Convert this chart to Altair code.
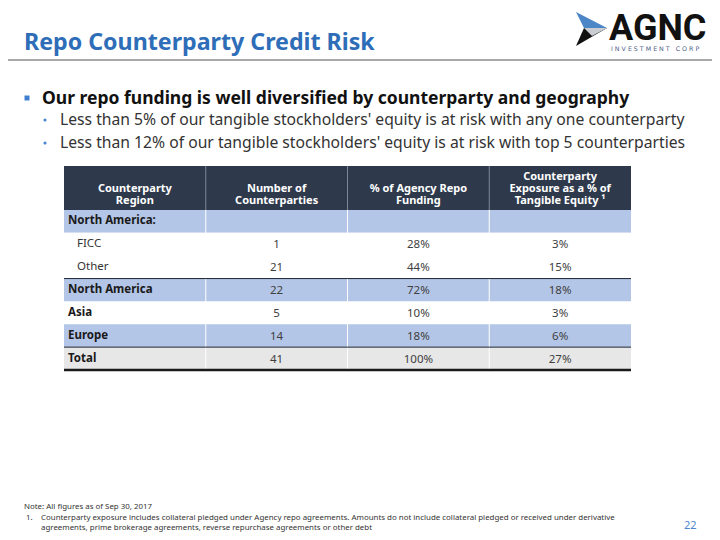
import altair as alt
import pandas as pd

# ---------------- data ----------------
regions = ["North America:", "FICC", "Other", "North America", "Asia", "Europe", "Total"]
counterparties = ["", "1", "21", "22", "5", "14", "41"]
repo_funding = ["", "28%", "44%", "72%", "10%", "18%", "100%"]
exposure = ["", "3%", "15%", "18%", "3%", "6%", "27%"]
row_kind = ["blue", "plain", "plain", "blue", "plain", "blue", "total"]
bold_row = [True, False, False, True, True, True, True]
headers = [
    ["Counterparty", "Region"],
    ["Number of", "Counterparties"],
    ["% of Agency Repo", "Funding"],
    ["Counterparty", "Exposure as a % of", "Tangible Equity \u00b9"],
]

title = "Repo Counterparty Credit Risk"
bullet_main = "Our repo funding is well diversified by counterparty and geography"
bullet_subs = [
    "Less than 5% of our tangible stockholders' equity is at risk with any one counterparty",
    "Less than 12% of our tangible stockholders' equity is at risk with top 5 counterparties",
]
note = "Note: All figures as of Sep 30, 2017"
footnote_lines = [
    "Counterparty exposure includes collateral pledged under Agency repo agreements. Amounts do not include collateral pledged or received under derivative",
    "agreements, prime brokerage agreements, reverse repurchase agreements or other debt",
]
page_no = "22"

FONT = "Noto Sans"
W, H = 704, 524
OFF = 8  # page margin

# ---------------- tables ----------------
n = len(regions)
rows = pd.DataFrame({
    "k": list(range(n)),
    "region": regions,
    "kind": row_kind,
    "bold": bold_row,
})
rows["r0"] = rows["k"]
rows["r1"] = rows["k"] + 1
rows["rc"] = rows["k"] + 0.5
rows["c0"] = 0
rows["c1"] = 4

vals = []
for k in range(n):
    for c, col in enumerate([counterparties, repo_funding, exposure], start=1):
        vals.append({"k": k, "xc": c + 0.5, "rc": k + 0.5, "v": col[k]})
vals = pd.DataFrame(vals)

ROW_PX = 160 / 7.0
hdr_top = -44 / ROW_PX
hdr = []
for c, lines in enumerate(headers):
    m = len(lines)
    for i, t in enumerate(lines):
        from_bottom = m - 1 - i
        hdr.append({"xc": c + 0.5, "ry": -(9 + 12 * from_bottom) / ROW_PX, "t": t})
hdr = pd.DataFrame(hdr)

xs = alt.Scale(domain=[0, 4], range=[64 - OFF, 631 - OFF], nice=False, zero=False)
ys = alt.Scale(domain=[0, 7], range=[210 - OFF, 370 - OFF], nice=False, zero=False)

one = pd.DataFrame({"a": [0]})


def X(f):
    return alt.X(f, scale=xs, axis=None)


def Y(f):
    return alt.Y(f, scale=ys, axis=None)


def txt(s, x, y, size, color, weight="normal", align="left", font=FONT):
    return alt.Chart(one).mark_text(
        text=s, fontSize=size, font=font, fontWeight=weight, color=color,
        align=align, baseline="alphabetic"
    ).encode(x=alt.value(x - OFF), y=alt.value(y - OFF))


layers = []

# header background
hdr_bg = pd.DataFrame({"c0": [0], "c1": [4], "r0": [hdr_top], "r1": [0]})
layers.append(alt.Chart(hdr_bg).mark_rect(color="#2E3A4C").encode(
    x=X("c0:Q"), x2="c1:Q", y=Y("r0:Q"), y2="r1:Q"))

# row backgrounds
layers.append(alt.Chart(rows).mark_rect().encode(
    x=X("c0:Q"), x2="c1:Q", y=Y("r0:Q"), y2="r1:Q",
    color=alt.Color("kind:N", scale=alt.Scale(domain=["blue", "plain", "total"],
                                                range=["#B4C6E7", "#FFFFFF", "#E7E7E7"]),
                    legend=None)))

# column separators
seps_h = pd.DataFrame({"c": [1, 2, 3], "a": [hdr_top] * 3, "b": [0] * 3})
layers.append(alt.Chart(seps_h).mark_rule(color="#7D8797", strokeWidth=1).encode(
    x=X("c:Q"), y=Y("a:Q"), y2="b:Q"))
seps_b = pd.DataFrame({"c": [1, 2, 3], "a": [0] * 3, "b": [7] * 3})
layers.append(alt.Chart(seps_b).mark_rule(color="#FFFFFF", strokeWidth=1).encode(
    x=X("c:Q"), y=Y("a:Q"), y2="b:Q"))

# horizontal rules
hl = pd.DataFrame({"r": [3, 6], "c0": [0, 0], "c1": [4, 4]})
layers.append(alt.Chart(hl).mark_rule(color="#1E2633", strokeWidth=1).encode(
    y=Y("r:Q"), x=X("c0:Q"), x2="c1:Q"))
hl3 = pd.DataFrame({"r": [7], "c0": [0], "c1": [4]})
layers.append(alt.Chart(hl3).mark_rule(color="#1A1A1A", strokeWidth=2.5).encode(
    y=Y("r:Q"), x=X("c0:Q"), x2="c1:Q"))

# header text
layers.append(alt.Chart(hdr).mark_text(
    font=FONT, fontSize=11, fontWeight="bold", color="#FFFFFF",
    align="center", baseline="middle").encode(
    x=X("xc:Q"), y=Y("ry:Q"), text="t:N"))

# region labels
layers.append(alt.Chart(rows).transform_filter("datum.bold").mark_text(
    font=FONT, fontSize=11.5, fontWeight="bold", color="#1A1A1A",
    align="left", baseline="middle", dx=4).encode(
    x=X("c0:Q"), y=Y("rc:Q"), text="region:N"))
layers.append(alt.Chart(rows).transform_filter("!datum.bold").mark_text(
    font=FONT, fontSize=11.5, color="#333333",
    align="left", baseline="middle", dx=13).encode(
    x=X("c0:Q"), y=Y("rc:Q"), text="region:N"))

# values
layers.append(alt.Chart(vals).mark_text(
    font=FONT, fontSize=11.5, color="#404040",
    align="center", baseline="middle", dy=1).encode(
    x=X("xc:Q"), y=Y("rc:Q"), text="v:N"))

# ---------------- slide decoration ----------------
layers.append(txt(title, 24, 50, 23.2, "#2E6DB8", "bold"))
layers.append(alt.Chart(one).mark_rule(color="#A8A8A8", strokeWidth=2).encode(
    x=alt.value(0), x2=alt.value(W), y=alt.value(60 - OFF)))

# logo
logo_parts = [
    ("M0,0 L31,16 L8,16 Z", "#4C86C6"),
    ("M8,16 L31,16 L0,34 Z", "#111111"),
    ("M8,16 L31,16 L16,24 Z", "#C9CDD2"),
]
for path, col in logo_parts:
    layers.append(alt.Chart(one).mark_point(
        shape=path, size=4, filled=True, color=col, opacity=1, strokeWidth=0).encode(
        x=alt.value(576 - OFF), y=alt.value(12 - OFF)))
layers.append(txt("AGNC", 609, 40, 36, "#111111", "bold", font="Roboto"))
layers.append(txt("I N V E S T M E N T\u00a0\u00a0\u00a0C O R P", 611, 50.5, 6.3, "#4F6287",
                  font="DejaVu Sans"))

# bullets
layers.append(alt.Chart(one).mark_square(size=25, color="#3F7FCF", opacity=1).encode(
    x=alt.value(27 - OFF), y=alt.value(98 - OFF)))
layers.append(txt(bullet_main, 42, 104, 17.5, "#111111", "bold"))
for i, s in enumerate(bullet_subs):
    yb = 125 + 23 * i
    layers.append(alt.Chart(one).mark_circle(size=10, color="#4A86D0", opacity=1).encode(
        x=alt.value(45 - OFF), y=alt.value(yb - 5 - OFF)))
    layers.append(txt(s, 60, yb, 15.7, "#333333"))

# footnotes
layers.append(txt(note, 24, 509, 7.9, "#333333"))
layers.append(txt("1.", 26, 520, 7.9, "#333333"))
for i, s in enumerate(footnote_lines):
    layers.append(txt(s, 41, 520 + 10 * i, 7.9, "#333333"))
layers.append(txt(page_no, 684, 528.5, 11, "#4F86CF"))

chart = alt.layer(*layers).properties(
    width=W, height=H, padding=0, autosize=alt.AutoSizeParams(type="none"),
    background="#FFFFFF"
).configure_view(stroke=None)

chart.save("out.html", embed_options={"renderer": "svg", "actions": False})
